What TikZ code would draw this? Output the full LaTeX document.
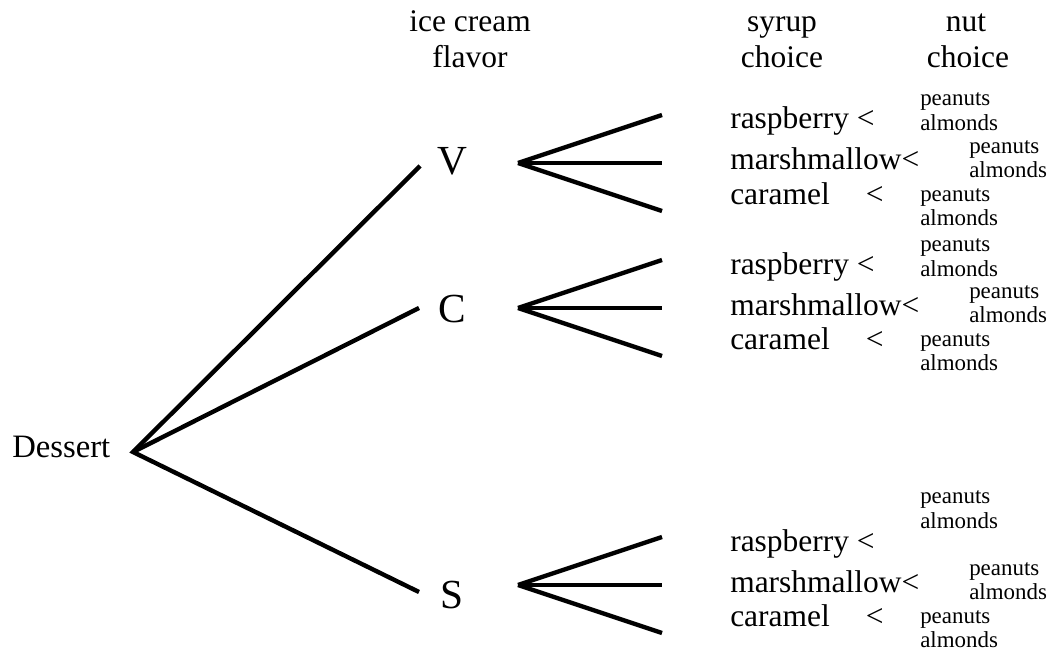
\documentclass[tikz,border=0pt]{standalone}
\usepackage{fontspec}
\setmainfont{Liberation Serif}
\tikzset{
  branch/.style={line width=3.3pt, line cap=butt},
  head/.style={inner sep=0pt, anchor=base, font=\fontsize{23.6}{28}\selectfont},
  syrup/.style={inner sep=0pt, anchor=base west, font=\fontsize{23.6}{28}\selectfont},
  nut/.style={inner sep=0pt, anchor=base west, font=\fontsize{17.2}{20}\selectfont},
  flav/.style={inner sep=0pt, anchor=base, font=\fontsize{31}{36}\selectfont},
}
\newcommand{\syrupgroup}[3]{%
  % #1 prefix, #2 centre y, #3 shift of the first nut pair
  \coordinate (#1v) at (518,#2);
  \coordinate (#1e1) at (662,#2-48);
  \coordinate (#1e2) at (662,#2);
  \coordinate (#1e3) at (662,#2+48);
  \draw[branch] (#1v) -- (#1e1);
  \draw[branch] (#1v) -- (#1e2);
  \draw[branch] (#1v) -- (#1e3);
  \node[syrup] (#1ras) at (730,#2-34) {raspberry <};
  \node[syrup] (#1mar) at (730,#2+7) {marshmallow<};
  \node[syrup] (#1car) at (730,#2+41) {caramel\hspace{27pt}<};
  \node[nut] (#1p1) at (920,#2-57+#3) {peanuts};
  \node[nut] (#1a1) at (920,#2-32+#3) {almonds};
  \node[nut] (#1p2) at (969,#2-10) {peanuts};
  \node[nut] (#1a2) at (969,#2+14) {almonds};
  \node[nut] (#1p3) at (920,#2+38) {peanuts};
  \node[nut] (#1a3) at (920,#2+62) {almonds};
}
\begin{document}
\begin{tikzpicture}[x=0.75pt,y=-0.75pt]
  \useasboundingbox (0,0) rectangle (1052,656);
  % headers
  \node[head] (h1a) at (470,32) {ice cream};
  \node[head] (h1b) at (470,68) {flavor};
  \node[head] (h2a) at (782,32) {syrup};
  \node[head] (h2b) at (782,68) {choice};
  \node[head] (h3a) at (966,32) {nut};
  \node[head] (h3b) at (968,68) {choice};
  % root
  \node[inner sep=0pt, anchor=base west, font=\fontsize{24.5}{29}\selectfont] (dessert) at (12,457) {Dessert};
  \coordinate (root) at (133,452);
  \coordinate (Vin) at (420,166);
  \coordinate (Cin) at (419,308);
  \coordinate (Sin) at (419,592);
  \draw[branch] (Vin) -- (root) -- (Sin);
  \draw[branch] (root) -- (Cin);
  % flavours
  \node[flav] (V) at (452,175) {V};
  \node[flav] (C) at (452,322) {C};
  \node[flav] (S) at (452,608) {S};
  \syrupgroup{V}{163}{0}
  \syrupgroup{C}{308}{0}
  \syrupgroup{S}{585}{-25}
\end{tikzpicture}
\end{document}
